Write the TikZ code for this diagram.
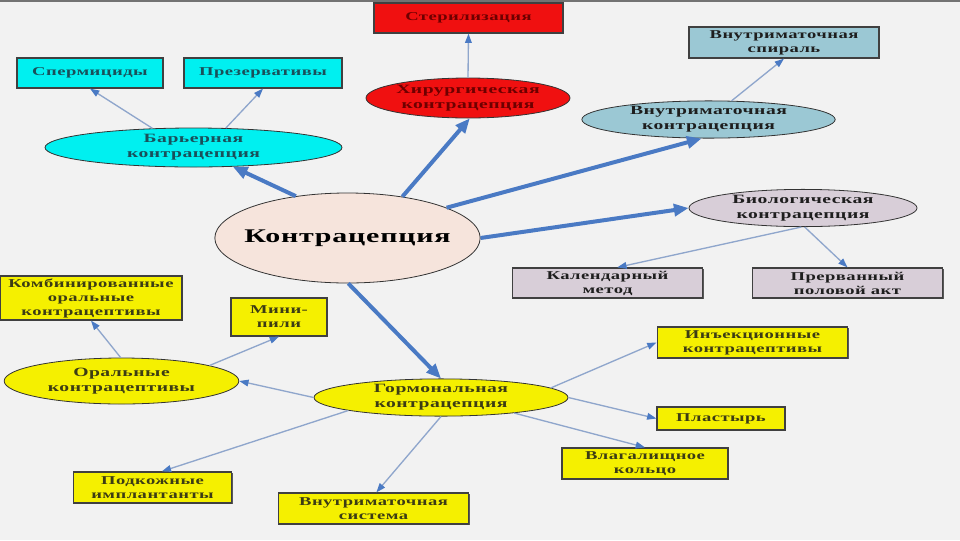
\documentclass[tikz,border=0pt]{standalone}
\usepackage{fontspec}
\setmainfont{Liberation Serif}[FakeStretch=1.55,LetterSpace=4]
\usetikzlibrary{shapes.geometric,arrows.meta,shadows}
\definecolor{bgcol}{RGB}{242,242,242}
\definecolor{redfill}{RGB}{240,16,16}
\definecolor{redtext}{RGB}{110,0,0}
\definecolor{cyanfill}{RGB}{0,240,240}
\definecolor{cyantext}{RGB}{25,80,90}
\definecolor{bluefill}{RGB}{155,200,212}
\definecolor{lilacfill}{RGB}{216,206,216}
\definecolor{peachfill}{RGB}{246,228,220}
\definecolor{yellowfill}{RGB}{245,240,0}
\definecolor{yellowtext}{RGB}{60,60,20}
\definecolor{darktext}{RGB}{30,30,30}
\definecolor{arrowblue}{RGB}{74,122,196}
\definecolor{lineblue}{RGB}{143,166,204}
\begin{document}
\begin{tikzpicture}[x=0.75pt,y=-0.75pt,
		oval/.style={ellipse,draw=black!80,line width=0.6pt,inner sep=0pt,align=center,
			font=\bfseries\fontsize{9.5}{11.5}\selectfont},
		box/.style={rectangle,draw=black!75,line width=0.9pt,inner sep=0pt,align=center,
			font=\bfseries\fontsize{9}{10.5}\selectfont,
			drop shadow={shadow xshift=0.9pt,shadow yshift=-0.9pt,fill=black!65,opacity=1}},
		bigarrow/.style={draw=arrowblue,line width=3pt,-{Triangle[length=11pt,width=9pt]}},
		smallarrow/.style={draw=lineblue,line width=1pt,-{Triangle[length=7pt,width=5pt,color=arrowblue]}}
		]
		\fill[bgcol] (0,0) rectangle (960,540);
		\useasboundingbox (0,0) rectangle (960,540);
		\draw[black!55,line width=1.5pt] (0,1) -- (960,1);
		
		% center
		\node[oval,fill=peachfill,text=black,minimum width=199pt,minimum height=67.5pt,inner xsep=-30pt,
		font=\bfseries\fontsize{14.5}{16}\selectfont](K) at (347.5,238){Контрацепция};
		
		% surgical
		\node[oval,fill=redfill,text=redtext,minimum width=153pt,minimum height=30pt](Hir) at (468,98){Хирургическая\\контрацепция};
		\node[box,fill=redfill,text=redtext,minimum width=141.75pt,minimum height=22.5pt](Ster) at (468.5,18){Стерилизация};
		
		% barrier
		\node[oval,fill=cyanfill,text=cyantext,minimum width=222.75pt,minimum height=29.25pt](Bar) at (193.5,147.5){Барьерная\\контрацепция};
		\node[box,fill=cyanfill,text=cyantext,minimum width=109.5pt,minimum height=22.5pt](Sperm) at (90,73){Спермициды};
		\node[box,fill=cyanfill,text=cyantext,minimum width=118.5pt,minimum height=22.5pt](Prez) at (263,73){Презервативы};
		
		% intrauterine
		\node[oval,fill=bluefill,text=darktext,minimum width=190pt,minimum height=26.25pt](Vmk) at (708.5,119.5){Внутриматочная\\контрацепция};
		\node[box,fill=bluefill,text=darktext,minimum width=142.5pt,minimum height=23.25pt](Spir) at (784,42.5){Внутриматочная\\спираль};
		
		% biological
		\node[oval,fill=lilacfill,text=darktext,minimum width=171pt,minimum height=22.5pt](Bio) at (803,208){Биологическая\\контрацепция};
		\node[box,fill=lilacfill,text=darktext,minimum width=143pt,minimum height=22.5pt](Kal) at (607.5,283){Календарный\\метод};
		\node[box,fill=lilacfill,text=darktext,minimum width=143pt,minimum height=22.5pt](Prer) at (847.5,283){Прерванный\\половой акт};
		
		% hormonal
		\node[oval,fill=yellowfill,text=yellowtext,minimum width=190.5pt,minimum height=26.25pt](Gorm) at (441,397.5){Гормональная\\контрацепция};
		\node[oval,fill=yellowfill,text=yellowtext,minimum width=176pt,minimum height=34.5pt](Oral) at (121.5,381){Оральные\\контрацептивы};
		\node[box,fill=yellowfill,text=yellowtext,minimum width=136.5pt,minimum height=33pt](Komb) at (91,298){Комбинированные\\оральные\\контрацептивы};
		\node[box,fill=yellowfill,text=yellowtext,minimum width=72pt,minimum height=28.5pt](Mini) at (279,317){Мини-\\пили};
		\node[box,fill=yellowfill,text=yellowtext,minimum width=143pt,minimum height=23.25pt](Inj) at (752.5,342.5){Инъекционные\\контрацептивы};
		\node[box,fill=yellowfill,text=yellowtext,minimum width=96pt,minimum height=17.25pt](Plast) at (721,418.5){Пластырь};
		\node[box,fill=yellowfill,text=yellowtext,minimum width=124.5pt,minimum height=23.25pt](Vlag) at (645,463.5){Влагалищное\\кольцо};
		\node[box,fill=yellowfill,text=yellowtext,minimum width=119pt,minimum height=23.25pt](Podk) at (152.5,487.5){Подкожные\\имплантанты};
		\node[box,fill=yellowfill,text=yellowtext,minimum width=143pt,minimum height=23.25pt](Vms) at (373.5,508.5){Внутриматочная\\система};
		
		% main arrows
		\draw[bigarrow] (K.141) -- (Bar.-26);
		\draw[bigarrow] (K.37) -- (Hir.-85);
		\draw[bigarrow] (K.17) -- (Vmk.-110);
		\draw[bigarrow] (K.east) -- (Bio.west);
		\draw[bigarrow] (K.-89) -- (Gorm.north);
		
		% branches
		\draw[smallarrow] (Hir.north) -- (Ster.south);
		\draw[smallarrow] (Bar.155) -- (Sperm.south);
		\draw[smallarrow] (Bar.31) -- (Prez.south);
		\draw[smallarrow] (Vmk.39) -- (Spir.south);
		\draw[smallarrow] (Bio.-95) -- (Kal.58);
		\draw[smallarrow] (Bio.-85) -- (Prer.north);
		\draw[smallarrow] (Oral.92) -- (Komb.south);
		\draw[smallarrow] (Oral.10) -- (Mini.south);
		\draw[smallarrow] (Gorm.west) -- (Oral.east);
		\draw[smallarrow] (Gorm.188) -- (Podk.60);
		\draw[smallarrow] (Gorm.-90) -- (Vms.80);
		\draw[smallarrow] (Gorm.5) -- (Inj.west);
		\draw[smallarrow] (Gorm.east) -- (Plast.west);
		\draw[smallarrow] (Gorm.-12) -- (Vlag.north);
	\end{tikzpicture}
\end{document}
